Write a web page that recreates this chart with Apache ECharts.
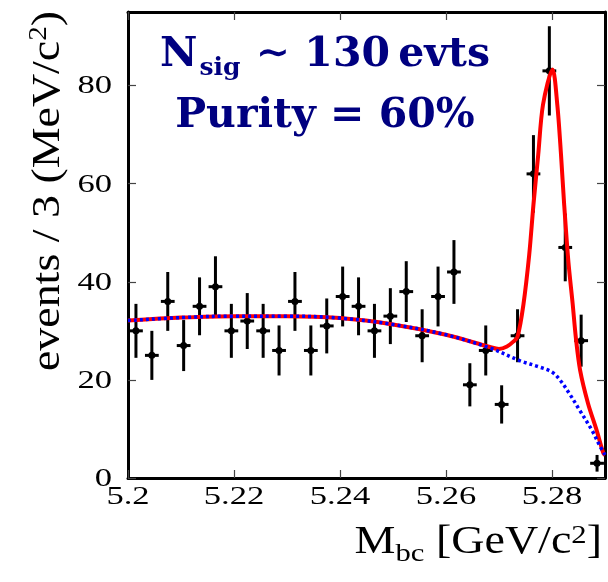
<!DOCTYPE html>
<html>
<head>
<meta charset="utf-8">
<script src="https://cdn.jsdelivr.net/npm/echarts@6/dist/echarts.min.js"></script>
<style>
  html, body { margin: 0; padding: 0; background: #fff; }
  #chart { width: 608px; height: 582px; }
</style>
</head>
<body>
<div id="chart"></div>
<script>
// Mbc distribution, 3 MeV bins
const binCenters = [5.2015, 5.2045, 5.2075, 5.2105, 5.2135, 5.2165, 5.2195, 5.2225, 5.2255, 5.2285,
                    5.2315, 5.2345, 5.2375, 5.2405, 5.2435, 5.2465, 5.2495, 5.2525, 5.2555, 5.2585,
                    5.2615, 5.2645, 5.2675, 5.2705, 5.2735, 5.2765, 5.2795, 5.2825, 5.2855, 5.2885];
const counts = [30, 25, 36, 27, 35, 39, 30, 32, 30, 26,
                36, 26, 31, 37, 35, 30, 33, 38, 29, 37,
                42, 19, 26, 15, 29, 62, 83, 47, 28, 3];
const countErrs = [5.5, 5.0, 6.0, 5.2, 5.9, 6.2, 5.5, 5.7, 5.5, 5.1,
                   6.0, 5.1, 5.6, 6.1, 5.9, 5.5, 5.7, 6.2, 5.4, 6.1,
                   6.5, 4.4, 5.1, 3.9, 5.4, 7.9, 9.1, 6.9, 5.3, 1.7];

// fit curves (total and background)
const totalX = [5.200, 5.210, 5.220, 5.230, 5.240, 5.250, 5.260, 5.2683, 5.2700, 5.2715,
                5.2727, 5.2735, 5.2746, 5.2757, 5.2765, 5.2774, 5.2783, 5.2801, 5.2810, 5.2817,
                5.2823, 5.2831, 5.2839, 5.2845, 5.2853, 5.2868, 5.2884, 5.2897, 5.2900];
const totalY = [32.1, 32.7, 33.0, 33.0, 32.6, 31.3, 29.2, 26.7, 26.3, 26.8,
                27.8, 28.8, 35.3, 45.5, 55.7, 65.9, 76.1, 83.3, 76.1, 65.9,
                55.7, 44.0, 35.5, 28.6, 22.0, 15.2, 9.8, 5.0, 4.7];
const bkgX = [5.200, 5.210, 5.220, 5.230, 5.240, 5.250, 5.260, 5.2683, 5.2740, 5.2777,
              5.2800, 5.2815, 5.2834, 5.2850, 5.2875, 5.2890, 5.2900];
const bkgY = [32.1, 32.7, 33.0, 33.0, 32.6, 31.3, 29.2, 26.5, 23.9, 22.6,
              21.6, 20.0, 17.0, 14.2, 9.8, 6.6, 4.7];

const xTicks = [5.2, 5.22, 5.24, 5.26, 5.28];
const yTicks = [0, 20, 40, 60, 80];

const xHalfBin = 0.0013;
const serif = 'Liberation Serif';
const navy = '#000080';

const chart = echarts.init(document.getElementById('chart'));

const frame = { show: true, onZero: false, lineStyle: { color: '#000', width: 3 } };
const tick = (vals) => ({ show: true, inside: true, length: 8, customValues: vals,
                          lineStyle: { color: '#444', width: 1.2 } });

chart.setOption({
  animation: false,
  backgroundColor: '#fff',
  grid: { left: 128, right: 3, top: 12, bottom: 104, containLabel: false, outerBoundsMode: 'none' },
  xAxis: [
    { type: 'value', min: 5.2, max: 5.29, position: 'bottom', axisLine: frame,
      axisTick: tick(xTicks), axisLabel: { show: false }, splitLine: { show: false } },
    { type: 'value', min: 5.2, max: 5.29, position: 'top', axisLine: frame,
      axisTick: tick(xTicks), axisLabel: { show: false }, splitLine: { show: false } }
  ],
  yAxis: [
    { type: 'value', min: 0, max: 95, position: 'left', axisLine: frame,
      axisTick: tick(yTicks), axisLabel: { show: false }, splitLine: { show: false } },
    { type: 'value', min: 0, max: 95, position: 'right', axisLine: frame,
      axisTick: tick(yTicks), axisLabel: { show: false }, splitLine: { show: false } }
  ],
  series: [
    {
      type: 'custom',
      name: 'data',
      z: 2,
      data: binCenters.map((x, i) => [x, counts[i], countErrs[i]]),
      renderItem: (params, api) => {
        const x = api.value(0), y = api.value(1), e = api.value(2);
        const c = api.coord([x, y]);
        const hi = api.coord([x, y + e]);
        const lo = api.coord([x, y - e]);
        const l = api.coord([x - xHalfBin, y]);
        const r = api.coord([x + xHalfBin, y]);
        const st = { stroke: '#000', lineWidth: 3 };
        return {
          type: 'group',
          children: [
            { type: 'line', shape: { x1: hi[0], y1: hi[1], x2: lo[0], y2: lo[1] }, style: st },
            { type: 'line', shape: { x1: l[0], y1: l[1], x2: r[0], y2: r[1] }, style: st },
            { type: 'circle', shape: { cx: c[0], cy: c[1], r: 3.5 }, style: { fill: '#000' } }
          ]
        };
      }
    },
    {
      type: 'line',
      name: 'total',
      z: 3,
      data: totalX.map((x, i) => [x, totalY[i]]),
      showSymbol: false,
      smooth: 0.3,
      lineStyle: { color: '#ff0000', width: 4, join: 'round' }
    },
    {
      type: 'line',
      name: 'background',
      z: 4,
      data: bkgX.map((x, i) => [x, bkgY[i]]),
      showSymbol: false,
      smooth: 0.35,
      lineStyle: { color: '#0000ff', width: 3.5, type: [3, 3], cap: 'butt' }
    }
  ]
});

// tick labels: the original font is stretched sideways, so draw them with scaleX
const xLabels = xTicks.map(v => ({
  type: 'text',
  x: chart.convertToPixel({ xAxisIndex: 0 }, v), y: 497,
  scaleX: 1.33,
  style: { text: String(v), align: 'center', verticalAlign: 'middle',
           fontFamily: serif, fontSize: 26, fill: '#000' }
}));
const yLabels = yTicks.map(v => ({
  type: 'text',
  x: 112, y: chart.convertToPixel({ yAxisIndex: 0 }, v) + 1,
  scaleX: 1.33,
  style: { text: String(v), align: 'right', verticalAlign: 'middle',
           fontFamily: serif, fontSize: 26, fill: '#000' }
}));

chart.setOption({
  graphic: xLabels.concat(yLabels, [
    {
      type: 'text',
      x: 325, y: 35,
      style: {
        text: '{a|N}{s|sig}{a| ∼ 130\u2009evts}',
        align: 'center',
        verticalAlign: 'top',
        rich: {
          a: { fontFamily: 'DejaVu Serif', fontWeight: 'bold', fontSize: 41, fill: navy,
               lineHeight: 46, verticalAlign: 'top' },
          s: { fontFamily: 'DejaVu Serif', fontWeight: 'bold', fontSize: 25, fill: navy,
               lineHeight: 26, padding: [25, 1, 0, 2], verticalAlign: 'bottom' }
        }
      }
    },
    {
      type: 'text',
      x: 325, y: 96,
      style: {
        text: 'Purity = 60%',
        align: 'center',
        verticalAlign: 'top',
        fontFamily: 'DejaVu Serif', fontWeight: 'bold', fontSize: 41, fill: navy
      }
    },
    {
      type: 'text',
      x: 48, y: 191,
      rotation: Math.PI / 2,
      scaleX: 1.12,
      style: {
        text: '{a|events / 3 (MeV/c}{p|2}{a|)}',
        align: 'center',
        verticalAlign: 'middle',
        rich: {
          a: { fontFamily: serif, fontSize: 41, fill: '#000', lineHeight: 44, verticalAlign: 'middle' },
          p: { fontFamily: serif, fontSize: 26, fill: '#000', lineHeight: 26, verticalAlign: 'top' }
        }
      }
    },
    {
      type: 'text',
      x: 602, y: 523,
      scaleX: 1.18,
      style: {
        text: '{a|M}{b|bc}{a| [GeV/c}{p|2}{a|]}',
        align: 'right',
        verticalAlign: 'top',
        rich: {
          a: { fontFamily: serif, fontSize: 39, fill: '#000', lineHeight: 44, verticalAlign: 'top' },
          b: { fontFamily: serif, fontSize: 26, fill: '#000', lineHeight: 26, padding: [31, 0, 0, 0],
               verticalAlign: 'bottom' },
          p: { fontFamily: serif, fontSize: 26, fill: '#000', lineHeight: 18, verticalAlign: 'top' }
        }
      }
    }
  ])
});
</script>
</body>
</html>
